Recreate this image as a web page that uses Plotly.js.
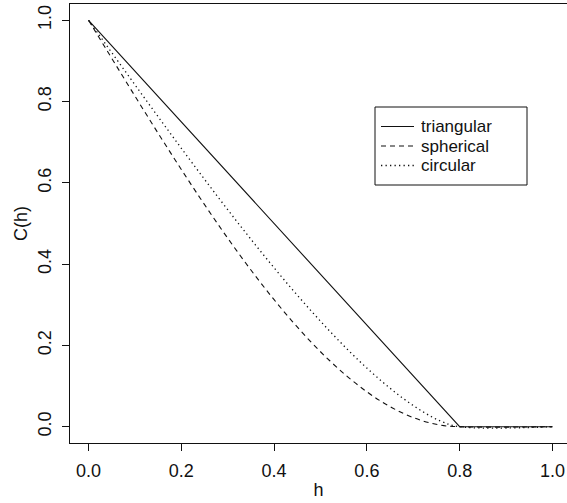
<!DOCTYPE html>
<html>
<head>
<meta charset="utf-8">
<script src="https://cdn.plot.ly/plotly-3.0.1.min.js"></script>
<style>
html,body{margin:0;padding:0;overflow:hidden;background:#fff;}
#chart{width:567px;height:503px;}
</style>
</head>
<body>
<div id="chart"></div>
<script>
// distance h
const h = [0, 0.04, 0.08, 0.12, 0.16, 0.20, 0.24, 0.28, 0.32, 0.36, 0.40,
           0.44, 0.48, 0.52, 0.56, 0.60, 0.64, 0.68, 0.72, 0.76, 0.80, 1.00];
const triangular = [1, 0.95, 0.90, 0.85, 0.80, 0.75, 0.70, 0.65, 0.60, 0.55, 0.50,
                    0.45, 0.40, 0.35, 0.30, 0.25, 0.20, 0.15, 0.10, 0.05, 0, 0];
const spherical = [1, 0.9251, 0.8505, 0.7767, 0.7040, 0.6328, 0.5635, 0.4964, 0.4320, 0.3706, 0.3125,
                   0.2582, 0.2080, 0.1623, 0.1215, 0.0859, 0.0560, 0.0321, 0.0145, 0.0037, 0, 0];
const circular = [1, 0.9364, 0.8729, 0.8097, 0.7471, 0.6850, 0.6238, 0.5636, 0.5046, 0.4470, 0.3910,
                  0.3368, 0.2848, 0.2351, 0.1881, 0.1443, 0.1041, 0.0682, 0.0374, 0.0133, 0, 0];
const seriesNames = ["triangular", "spherical", "circular"];
const xTicks = [0, 0.2, 0.4, 0.6, 0.8, 1.0];
const xTickText = ["0.0", "0.2", "0.4", "0.6", "0.8", "1.0"];
const yTicks = [0, 0.2, 0.4, 0.6, 0.8, 1.0];
const yTickText = ["0.0", "0.2", "0.4", "0.6", "0.8", "1.0"];

const FONT = "Liberation Sans, Arial, Helvetica, sans-serif";
const INK = "#111";
const W = 567, H = 503, ML = 70, MR = 0, MT = 4, MB = 60;
const dashes = ["solid", "5px,4px", "1.3px,3.2px"];
const widths = [1.1, 1.1, 1.3];
const ys = [triangular, spherical, circular];

const traces = ys.map((y, i) => ({
  x: h, y: y, name: seriesNames[i], mode: "lines", showlegend: false,
  line: {color: INK, width: widths[i], dash: dashes[i], shape: i === 0 ? "linear" : "spline"}
}));

// legend drawn by hand (R-style compact legend)
const px = v => (v - ML) / (W - ML - MR);
const py = v => 1 - (v - MT) / (H - MT - MB);
const legBox = {l: 375, r: 527, t: 107, b: 185};
const rowY = [126.5, 146, 165.5];
const shapes = [{
  type: "rect", xref: "paper", yref: "paper",
  x0: px(legBox.l), x1: px(legBox.r), y0: py(legBox.b), y1: py(legBox.t),
  line: {color: INK, width: 1}, fillcolor: "#fff", layer: "above"
}];
const annotations = [];
seriesNames.forEach((nm, i) => {
  shapes.push({
    type: "line", xref: "paper", yref: "paper",
    x0: px(381), x1: px(414), y0: py(rowY[i]), y1: py(rowY[i]),
    line: {color: INK, width: widths[i], dash: dashes[i]}, layer: "above"
  });
  annotations.push({
    xref: "paper", yref: "paper", x: px(420), y: py(rowY[i]),
    xanchor: "left", yanchor: "middle", showarrow: false, text: nm,
    height: 19, borderpad: 0, valign: "middle",
    font: {family: FONT, size: 17, color: INK}
  });
});

const axisCommon = {
  showline: true, linecolor: INK, linewidth: 1.3,
  showgrid: false, zeroline: false,
  ticks: "outside", ticklen: 7, tickwidth: 1, tickcolor: INK,
  tickfont: {family: FONT, size: 18, color: INK}
};
const layout = {
  width: W, height: H,
  margin: {l: ML, r: MR, t: MT, b: MB},
  paper_bgcolor: "#fff", plot_bgcolor: "#fff",
  showlegend: false,
  font: {family: FONT, size: 18, color: INK},
  xaxis: Object.assign({}, axisCommon, {
    range: [-0.04, 1.0314], mirror: true, tickvals: xTicks, ticktext: xTickText,
    ticklabelstandoff: 4,
    title: {text: "h", font: {family: FONT, size: 18, color: INK}, standoff: 3}
  }),
  yaxis: Object.assign({}, axisCommon, {
    range: [-0.04, 1.04], mirror: false, tickvals: yTicks, ticktext: yTickText, tickangle: -90,
    ticklabelstandoff: 4,
    title: {text: "C(h)", font: {family: FONT, size: 18, color: INK}, standoff: 2}
  }),
  shapes: shapes,
  annotations: annotations
};
Plotly.newPlot("chart", traces, layout, {displayModeBar: false, staticPlot: true});
</script>
</body>
</html>
